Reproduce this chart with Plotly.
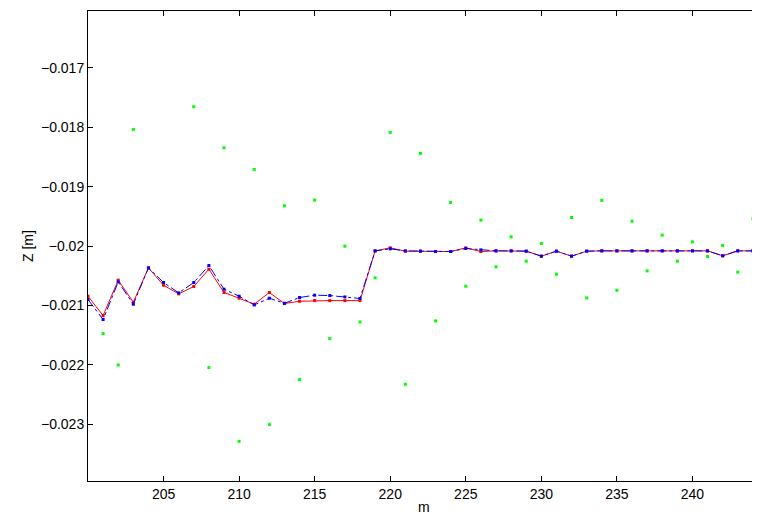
import plotly.graph_objects as go

m_line = list(range(200, 246))
z_red = [-0.020846, -0.021172, -0.020576, -0.020947, -0.020369, -0.020661, -0.020807, -0.020683,
         -0.020391, -0.020784, -0.020880, -0.020981, -0.020784, -0.020970, -0.020931, -0.020920,
         -0.020920, -0.020920, -0.020920, -0.020082, -0.020031, -0.020087, -0.020087, -0.020093,
         -0.020093, -0.020031, -0.020093, -0.020082, -0.020082, -0.020087, -0.020171, -0.020087,
         -0.020171, -0.020087, -0.020082, -0.020082, -0.020082, -0.020082, -0.020082, -0.020082,
         -0.020082, -0.020082, -0.020165, -0.020082, -0.020082, -0.020082]
z_blue = [-0.020902, -0.021239, -0.020605, -0.020981, -0.020369, -0.020615, -0.020790, -0.020615,
          -0.020329, -0.020728, -0.020846, -0.020993, -0.020880, -0.020965, -0.020868, -0.020829,
          -0.020835, -0.020858, -0.020885, -0.020082, -0.020048, -0.020082, -0.020087, -0.020093,
          -0.020093, -0.020042, -0.020065, -0.020082, -0.020082, -0.020087, -0.020171, -0.020087,
          -0.020171, -0.020087, -0.020082, -0.020082, -0.020082, -0.020082, -0.020082, -0.020082,
          -0.020082, -0.020082, -0.020165, -0.020082, -0.020082, -0.020082]

m_meas = [201, 202, 203, 207, 208, 209, 210, 211, 212, 213, 214, 215, 216, 217, 218, 219, 220,
          221, 222, 223, 224, 225, 226, 227, 228, 229, 230, 231, 232, 233, 234, 235, 236, 237,
          238, 239, 240, 241, 242, 243, 244]
z_meas = [-0.021476, -0.022005, -0.018035, -0.017653, -0.022049, -0.018344, -0.023292, -0.018709,
          -0.023010, -0.019323, -0.022252, -0.019227, -0.021560, -0.020003, -0.021280, -0.020537,
          -0.018085, -0.022330, -0.018439, -0.021262, -0.019266, -0.020678, -0.019564, -0.020352,
          -0.019845, -0.020256, -0.019957, -0.020475, -0.019519, -0.020875, -0.019232, -0.020745,
          -0.019581, -0.020420, -0.019817, -0.020256, -0.019930, -0.020177, -0.019990, -0.020441,
          -0.019542]

x_ticks = [205, 210, 215, 220, 225, 230, 235, 240]
y_ticks = [-0.023, -0.022, -0.021, -0.020, -0.019, -0.018, -0.017]
y_tick_text = ["\u22120.023", "\u22120.022", "\u22120.021", "\u22120.02", "\u22120.019", "\u22120.018", "\u22120.017"]

fig = go.Figure()
fig.add_trace(go.Scatter(x=m_meas, y=z_meas, mode="markers",
                         marker=dict(color="#00ff00", size=3, symbol="square"), showlegend=False))
fig.add_trace(go.Scatter(x=m_line, y=z_red, mode="lines+markers",
                         line=dict(color="#ff0000", width=1),
                         marker=dict(color="#ff0000", size=3, symbol="square"), showlegend=False))
fig.add_trace(go.Scatter(x=m_line, y=z_blue, mode="lines+markers",
                         line=dict(color="#0000ff", width=1, dash="dashdot"),
                         marker=dict(color="#0000ff", size=3, symbol="square"), showlegend=False))

axis_font = dict(family="Liberation Sans, Arial, sans-serif", size=14, color="#000000")
W, H = 752, 507
L, T, B = 80, 3, 34
plot_w, plot_h = W - L, H - T - B

fig.update_layout(
    width=W, height=H,
    margin=dict(l=L, r=0, t=T, b=B, autoexpand=False),
    paper_bgcolor="white", plot_bgcolor="white",
    font=axis_font,
    xaxis=dict(range=[200, 244.47], tickvals=x_ticks, ticks="inside", ticklen=5,
               tickcolor="#000", showline=True, linecolor="#000", linewidth=1,
               mirror="ticks", showgrid=False, zeroline=False, automargin=False,
               tickfont=axis_font),
    yaxis=dict(range=[-0.02396, -0.01604], tickvals=y_ticks, ticktext=y_tick_text,
               ticks="inside", ticklen=5, tickcolor="#000", showline=True, linecolor="#000",
               linewidth=1, showgrid=False, zeroline=False, automargin=False,
               tickfont=axis_font),
    annotations=[
        dict(text="m", xref="paper", yref="paper", x=0.5, y=-26 / plot_h,
             xanchor="center", yanchor="middle", showarrow=False, font=axis_font),
        dict(text="Z [m]", xref="paper", yref="paper", x=(20 - L) / plot_w, y=0.5,
             xanchor="center", yanchor="middle", textangle=-90, showarrow=False, font=axis_font),
    ],
)
fig.write_html("out.html")
